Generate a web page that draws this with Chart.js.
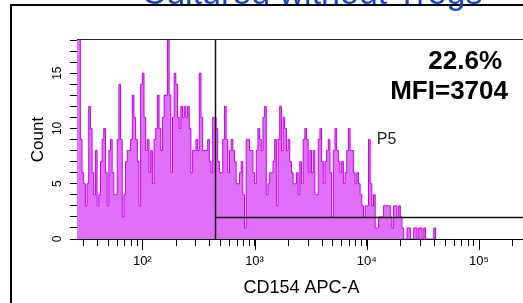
<!DOCTYPE html>
<html>
<head>
<meta charset="utf-8">
<script src="https://cdn.jsdelivr.net/npm/chart.js@4.4.1/dist/chart.umd.min.js"></script>
<style>
html, body { margin: 0; padding: 0; background: #fff; overflow: hidden; }
#wrap { position: absolute; left: 0; top: 0; }
</style>
</head>
<body>
<div id="wrap"><canvas id="chartHist" width="540" height="303"></canvas></div>
<script>
const plotTitle = "Cultured without Tregs";
const xTitle = "CD154 APC-A";
const yTitle = "Count";
const gateName = "P5";
const gatePercent = "22.6%";
const gateMfi = "MFI=3704";

// axis range (log channel values) and histogram binning
const xMin = 26.2;
const xMax = 262143;
const binsPerDecade = 67;
const yMax = 18;

// gate P5: starts at this channel value, drawn at this count level
const gateMin = 445;
const gateLevel = 2;
const gateLabelAt = [12300, 9];

const yLabelValues = [0, 5, 10, 15];
const xTickDecades = [10, 100, 1000, 10000, 100000];
const xTickSteps = [1, 2, 3, 4, 5, 6, 7, 8, 9];
const xLabelDecades = [100, 1000, 10000, 100000];
const superscripts = { 2: "\u00b2", 3: "\u00b3", 4: "\u2074", 5: "\u2075" };

// counts per bin, left to right
const counts = [
    25, 20,
    9, 6, 5, 3, 5, 12, 10, 6, 4, 8, 3, 4, 7, 9, 10, 6, 3, 8, 9, 6, 4, 4, 9, 14, 9, 2, 4, 7, 8, 8,
    9, 13, 11, 9, 7, 3, 14, 15, 11, 8, 9, 6, 8, 5, 9, 10, 13, 10, 8, 11, 13,
    13, 18, 13, 6, 11, 15, 14, 11, 10, 12, 11, 12, 11, 12, 10, 6, 8, 8, 9, 8, 15, 11, 8, 8, 8, 9,
    7, 6, 11, 11, 10, 7, 6, 6, 9, 12, 9, 6, 8, 9, 8, 7, 5, 5, 6, 7, 4, 1, 9, 9, 8, 8, 6,
    5, 8, 10, 9, 8, 11, 12, 4, 5, 6, 6, 7, 9, 3, 9, 12, 8, 11, 10, 8, 9, 7, 6, 5, 5, 6,
    4, 7, 5, 9, 10, 9, 6, 8, 6, 8, 4, 4, 9, 10, 7, 5, 7, 8, 9, 6, 2, 8, 10, 8, 7, 6, 7,
    5, 6, 8, 10, 8, 8, 6, 5, 6, 5, 4, 3, 2, 3, 3, 9, 5, 3, 4, 1, 1, 2, 2, 2, 3, 3,
    3, 3, 2, 1, 3, 3, 2, 3, 2, 1, 0, 0, 1, 1, 0, 0, 1, 1, 0, 1, 1, 0, 1, 0, 0, 0, 0,
    0, 1, 0
];

const binStart = counts.map((c, i) => xMin * Math.pow(10, i / binsPerDecade));

const xTickValues = [];
xTickDecades.forEach(d => {
    xTickSteps.forEach(m => {
        const v = d * m;
        if (v >= xMin && v <= xMax) xTickValues.push(v);
    });
});

function decadeLabel(v) {
    const e = Math.round(Math.log10(v));
    if (!xLabelDecades.includes(v)) return "";
    return "10" + superscripts[e];
}

const overlay = {
    id: "overlay",
    beforeDraw(chart) {
        const c = chart.ctx;
        c.save();
        // outer figure frame
        c.strokeStyle = "#000";
        c.lineWidth = 2;
        c.beginPath();
        c.moveTo(11, 320);
        c.lineTo(11, 5);
        c.lineTo(560, 5);
        c.stroke();
        // title, mostly cut off at the top
        c.font = '34px "Liberation Sans", Arial, sans-serif';
        c.fillStyle = "#1a44c8";
        c.textAlign = "center";
        c.textBaseline = "alphabetic";
        c.fillText(plotTitle, 312, 3.5);
        c.restore();
    },
    afterDatasetsDraw(chart) {
        const c = chart.ctx;
        const area = chart.chartArea;
        const xs = chart.scales.x;
        const ys = chart.scales.y;
        c.save();
        // top of plot frame
        c.strokeStyle = "#222";
        c.lineWidth = 1;
        c.beginPath();
        c.moveTo(area.left, area.top - 0.5);
        c.lineTo(chart.width, area.top - 0.5);
        c.stroke();
        // gate
        const gx = Math.round(xs.getPixelForValue(gateMin)) + 0.5;
        const gy = Math.round(ys.getPixelForValue(gateLevel)) + 0.5;
        c.strokeStyle = "#111";
        c.lineWidth = 1.5;
        c.beginPath();
        c.moveTo(gx, area.top);
        c.lineTo(gx, area.bottom);
        c.moveTo(gx, gy);
        c.lineTo(chart.width, gy);
        c.stroke();
        c.restore();
    },
    afterDraw(chart) {
        const c = chart.ctx;
        const area = chart.chartArea;
        const xs = chart.scales.x;
        const ys = chart.scales.y;
        c.save();
        // longer tick marks at the decades
        c.strokeStyle = "#000";
        c.lineWidth = 1;
        c.beginPath();
        xLabelDecades.forEach(d => {
            const px = Math.round(xs.getPixelForValue(d)) + 0.5;
            c.moveTo(px, area.bottom);
            c.lineTo(px, area.bottom + 11);
        });
        c.stroke();
        // rotated y labels
        c.fillStyle = "#000";
        c.font = '12px "Liberation Sans", Arial, sans-serif';
        c.textAlign = "center";
        c.textBaseline = "middle";
        yLabelValues.forEach(v => {
            c.save();
            c.translate(58, ys.getPixelForValue(v));
            c.rotate(-Math.PI / 2);
            c.fillText(String(v), 0, 0);
            c.restore();
        });
        // gate name
        c.font = '16px "Liberation Sans", Arial, sans-serif';
        c.fillStyle = "#222";
        c.textAlign = "left";
        c.fillText(gateName, xs.getPixelForValue(gateLabelAt[0]), ys.getPixelForValue(gateLabelAt[1]));
        // gate statistics
        c.font = 'bold 26px "Liberation Sans", Arial, sans-serif';
        c.fillStyle = "#000";
        c.textAlign = "right";
        c.textBaseline = "alphabetic";
        c.fillText(gatePercent, 502, 69);
        c.fillText(gateMfi, 508, 99);
        c.restore();
    }
};

Chart.defaults.font.family = "'Liberation Sans', Arial, sans-serif";
Chart.defaults.color = "#000";

const ctx = document.getElementById("chartHist").getContext("2d");
const chart = new Chart(ctx, {
    type: "line",
    data: {
        datasets: [{
            data: counts.map((c, i) => ({ x: binStart[i], y: c })),
            stepped: true,
            fill: "origin",
            backgroundColor: "#e070f8",
            borderColor: "#c800f0",
            borderWidth: 1,
            pointRadius: 0
        }]
    },
    options: {
        responsive: false,
        animation: false,
        layout: { padding: { left: 0, top: 40, right: 14, bottom: 0 } },
        plugins: {
            legend: { display: false },
            tooltip: { enabled: false }
        },
        scales: {
            x: {
                type: "logarithmic",
                min: xMin,
                max: xMax,
                afterBuildTicks: s => { s.ticks = xTickValues.map(v => ({ value: v })); },
                afterFit: s => { s.height = 64; },
                grid: { display: true, drawOnChartArea: false, tickLength: 7, color: "#000", lineWidth: 1 },
                border: { display: true, color: "#000", width: 1 },
                ticks: {
                    autoSkip: false,
                    maxRotation: 0,
                    minRotation: 0,
                    padding: 8,
                    font: { size: 13 },
                    callback: v => decadeLabel(v)
                },
                title: { display: true, text: xTitle, font: { size: 18 }, padding: { top: 0, bottom: 4 } }
            },
            y: {
                min: 0,
                max: yMax,
                afterFit: s => { s.width = 77; },
                ticks: { stepSize: 1, display: false },
                grid: { display: true, drawOnChartArea: false, tickLength: 7, color: "#000", lineWidth: 1 },
                border: { display: true, color: "#000", width: 1 },
                title: { display: true, text: yTitle, font: { size: 17 }, padding: { top: 28, bottom: 0 } }
            }
        }
    },
    plugins: [overlay]
});
</script>
</body>
</html>
